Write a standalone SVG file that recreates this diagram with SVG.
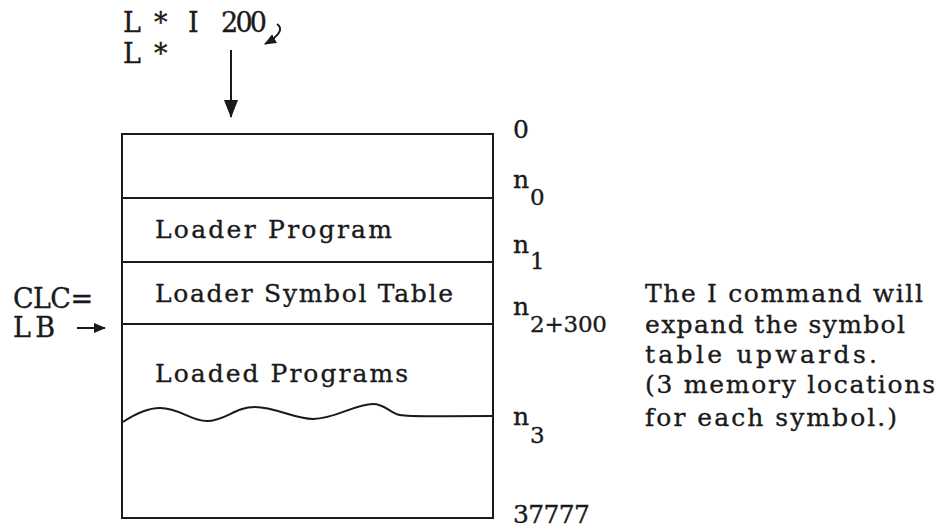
<svg xmlns="http://www.w3.org/2000/svg" width="950" height="529" viewBox="0 0 950 529">
<defs>
<style>
text{font-family:"DejaVu Serif","Liberation Serif",serif;fill:#1a1a1a;stroke:#1a1a1a;stroke-width:0.35;font-size:25px}
.big{font-size:27px}
.lab{font-size:25px}
.sub{font-size:23px}
.ln{stroke:#1a1a1a;stroke-width:2;fill:none}
</style>
<marker id="ah" markerWidth="12" markerHeight="10" refX="11" refY="5" orient="auto" markerUnits="userSpaceOnUse">
<path d="M0,0 L12,5 L0,10 Z" fill="#1a1a1a"/>
</marker>
<marker id="ahBig" markerWidth="18" markerHeight="14" refX="17" refY="7" orient="auto" markerUnits="userSpaceOnUse">
<path d="M0,0 L18,7 L0,14 Z" fill="#1a1a1a"/>
</marker>
</defs>
<rect width="950" height="529" fill="#fff"/>
<g id="commands">
<text class="big" y="32"><tspan x="123">L</tspan><tspan x="154">*</tspan><tspan x="188">I</tspan><tspan x="221" textLength="46" lengthAdjust="spacing">200</tspan></text>
<text class="big" y="63"><tspan x="123">L</tspan><tspan x="154">*</tspan></text>
</g>
<g id="memory">
<rect x="122" y="134" width="371" height="384" class="ln"/>
<line x1="122" y1="198" x2="493" y2="198" class="ln"/>
<line x1="122" y1="262" x2="493" y2="262" class="ln"/>
<line x1="122" y1="324" x2="493" y2="324" class="ln"/>
<path class="ln" d="M123,422 C135,414 148,408 160,408 C180,408 190,421 207,421 C225,421 235,407 255,407 C275,407 295,419 313,419 C335,419 355,404 373,404 C385,404 390,413 400,415 C410,417 425,416 493,416"/>
</g>
<g id="loader-program"><text x="155" y="238" textLength="237" lengthAdjust="spacing">Loader Program</text></g>
<g id="loader-symbol-table"><text x="155" y="302" textLength="298" lengthAdjust="spacing">Loader Symbol Table</text></g>
<g id="loaded-programs"><text x="155" y="382" textLength="253" lengthAdjust="spacing">Loaded Programs</text></g>
<g id="addresses">
<text class="lab" x="513" y="138">0</text>
<text class="lab" x="513" y="188">n<tspan class="sub" x="530" y="205">0</tspan></text>
<text class="lab" x="513" y="253">n<tspan class="sub" x="530" y="269">1</tspan></text>
<text class="lab" x="513" y="315">n<tspan class="sub" x="530" y="332" textLength="77" lengthAdjust="spacing">2+300</tspan></text>
<text class="lab" x="513" y="425">n<tspan class="sub" x="530" y="443">3</tspan></text>
<text class="lab" x="513" y="523" textLength="77" lengthAdjust="spacing">37777</text>
</g>
<g id="clc">
<text class="big" x="13" y="308" textLength="80" lengthAdjust="spacing">CLC=</text>
<text class="big" x="13" y="337" textLength="42" lengthAdjust="spacing">LB</text>
</g>
<g id="note">
<text x="645" y="302" textLength="278" lengthAdjust="spacing">The I command will</text>
<text x="645" y="333" textLength="260" lengthAdjust="spacing">expand the symbol</text>
<text x="645" y="363" textLength="232" lengthAdjust="spacing">table upwards.</text>
<text x="645" y="393" textLength="290" lengthAdjust="spacing">(3 memory locations</text>
<text x="645" y="426" textLength="252" lengthAdjust="spacing">for each symbol.)</text>
</g>
<g id="connectors">
<line x1="231" y1="50" x2="231" y2="117" class="ln" marker-end="url(#ahBig)"/>
<line x1="77" y1="328" x2="105" y2="328" class="ln" marker-end="url(#ah)"/>
<path d="M277,24 C283,28 281,35 265,44" class="ln" marker-end="url(#ah)"/>
</g>
</svg>
